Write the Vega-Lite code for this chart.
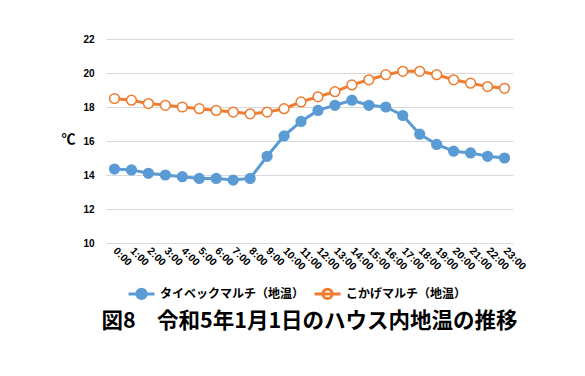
{
  "$schema": "https://vega.github.io/schema/vega-lite/v6.json",
  "width": 407,
  "height": 204,
  "autosize": {"type": "none"},
  "padding": {"left": 106, "top": 39, "right": 72, "bottom": 133},
  "background": "white",
  "config": {"view": {"stroke": null}, "font": "Noto Sans CJK JP"},
  "title": {"text": "図8　令和5年1月1日のハウス内地温の推移", "orient": "bottom", "anchor": "middle", "fontSize": 21.5, "fontWeight": "bold", "color": "#000000", "offset": 6},
  "data": {"values": [
    {"t": "0:00", "s": "タイベックマルチ（地温）", "v": 14.35},
    {"t": "1:00", "s": "タイベックマルチ（地温）", "v": 14.3},
    {"t": "2:00", "s": "タイベックマルチ（地温）", "v": 14.1},
    {"t": "3:00", "s": "タイベックマルチ（地温）", "v": 14.0},
    {"t": "4:00", "s": "タイベックマルチ（地温）", "v": 13.9},
    {"t": "5:00", "s": "タイベックマルチ（地温）", "v": 13.8},
    {"t": "6:00", "s": "タイベックマルチ（地温）", "v": 13.8},
    {"t": "7:00", "s": "タイベックマルチ（地温）", "v": 13.7},
    {"t": "8:00", "s": "タイベックマルチ（地温）", "v": 13.8},
    {"t": "9:00", "s": "タイベックマルチ（地温）", "v": 15.1},
    {"t": "10:00", "s": "タイベックマルチ（地温）", "v": 16.3},
    {"t": "11:00", "s": "タイベックマルチ（地温）", "v": 17.15},
    {"t": "12:00", "s": "タイベックマルチ（地温）", "v": 17.8},
    {"t": "13:00", "s": "タイベックマルチ（地温）", "v": 18.1},
    {"t": "14:00", "s": "タイベックマルチ（地温）", "v": 18.4},
    {"t": "15:00", "s": "タイベックマルチ（地温）", "v": 18.1},
    {"t": "16:00", "s": "タイベックマルチ（地温）", "v": 18.0},
    {"t": "17:00", "s": "タイベックマルチ（地温）", "v": 17.5},
    {"t": "18:00", "s": "タイベックマルチ（地温）", "v": 16.4},
    {"t": "19:00", "s": "タイベックマルチ（地温）", "v": 15.8},
    {"t": "20:00", "s": "タイベックマルチ（地温）", "v": 15.4},
    {"t": "21:00", "s": "タイベックマルチ（地温）", "v": 15.3},
    {"t": "22:00", "s": "タイベックマルチ（地温）", "v": 15.1},
    {"t": "23:00", "s": "タイベックマルチ（地温）", "v": 15.0},
    {"t": "0:00", "s": "こかげマルチ（地温）", "v": 18.5},
    {"t": "1:00", "s": "こかげマルチ（地温）", "v": 18.4},
    {"t": "2:00", "s": "こかげマルチ（地温）", "v": 18.2},
    {"t": "3:00", "s": "こかげマルチ（地温）", "v": 18.1},
    {"t": "4:00", "s": "こかげマルチ（地温）", "v": 18.0},
    {"t": "5:00", "s": "こかげマルチ（地温）", "v": 17.9},
    {"t": "6:00", "s": "こかげマルチ（地温）", "v": 17.8},
    {"t": "7:00", "s": "こかげマルチ（地温）", "v": 17.7},
    {"t": "8:00", "s": "こかげマルチ（地温）", "v": 17.6},
    {"t": "9:00", "s": "こかげマルチ（地温）", "v": 17.7},
    {"t": "10:00", "s": "こかげマルチ（地温）", "v": 17.9},
    {"t": "11:00", "s": "こかげマルチ（地温）", "v": 18.3},
    {"t": "12:00", "s": "こかげマルチ（地温）", "v": 18.6},
    {"t": "13:00", "s": "こかげマルチ（地温）", "v": 18.9},
    {"t": "14:00", "s": "こかげマルチ（地温）", "v": 19.3},
    {"t": "15:00", "s": "こかげマルチ（地温）", "v": 19.6},
    {"t": "16:00", "s": "こかげマルチ（地温）", "v": 19.9},
    {"t": "17:00", "s": "こかげマルチ（地温）", "v": 20.1},
    {"t": "18:00", "s": "こかげマルチ（地温）", "v": 20.1},
    {"t": "19:00", "s": "こかげマルチ（地温）", "v": 19.9},
    {"t": "20:00", "s": "こかげマルチ（地温）", "v": 19.6},
    {"t": "21:00", "s": "こかげマルチ（地温）", "v": 19.4},
    {"t": "22:00", "s": "こかげマルチ（地温）", "v": 19.2},
    {"t": "23:00", "s": "こかげマルチ（地温）", "v": 19.1}
  ]},
  "encoding": {
    "x": {"field": "t", "type": "nominal", "sort": null, "scale": {"type": "point", "padding": 0.5},
      "axis": {"title": null, "labelAngle": 45, "labelAlign": "left", "labelBaseline": "middle", "labelFontSize": 10.5, "labelFontWeight": "bold", "labelColor": "#000000", "labelFont": "Liberation Sans", "labelPadding": 6, "ticks": false, "domain": false, "grid": false, "labelOverlap": false}},
    "y": {"field": "v", "type": "quantitative", "scale": {"domain": [10, 22], "nice": false, "zero": false},
      "axis": {"values": [10, 12, 14, 16, 18, 20, 22], "title": "℃", "titleAngle": 0, "titleX": -38, "titleY": 100, "titleAlign": "center", "titleBaseline": "middle", "titleFontSize": 14, "titleFontWeight": "bold", "titleColor": "#000000", "labelFontSize": 10, "labelFontWeight": "bold", "labelColor": "#000000", "labelFont": "Liberation Sans", "labelPadding": 12, "ticks": false, "domain": false, "gridColor": "#d9d9d9", "gridWidth": 1}},
    "color": {"field": "s", "type": "nominal", "sort": ["タイベックマルチ（地温）", "こかげマルチ（地温）"],
      "scale": {"domain": ["タイベックマルチ（地温）", "こかげマルチ（地温）"], "range": ["#5B9BD5", "#ED7D31"]},
      "legend": {"title": null, "orient": "none", "legendX": 21, "legendY": 240, "direction": "horizontal",
        "symbolType": "M-1,0L1,0M0.36,0A0.36,0.36,0,1,1,-0.36,0A0.36,0.36,0,1,1,0.36,0",
        "symbolSize": 676, "symbolStrokeWidth": 3, "labelFontSize": 12, "labelFontWeight": "bold", "labelColor": "#000000", "labelOffset": 4, "columnPadding": 3, "labelLimit": 300,
        "encode": {"symbols": {"update": {"fill": {"signal": "datum.value === 'タイベックマルチ（地温）' ? '#5B9BD5' : '#ffffff'"}, "fillOpacity": {"value": 1}}}}}}
  },
  "layer": [
    {"mark": {"type": "line", "strokeWidth": 3}},
    {"mark": {"type": "point", "filled": false, "size": 95, "strokeWidth": 1.5, "opacity": 1},
      "encoding": {"fill": {"field": "s", "type": "nominal", "scale": {"domain": ["タイベックマルチ（地温）", "こかげマルチ（地温）"], "range": ["#5B9BD5", "#ffffff"]}, "legend": null}}}
  ],
  "resolve": {"scale": {"fill": "independent"}}
}
